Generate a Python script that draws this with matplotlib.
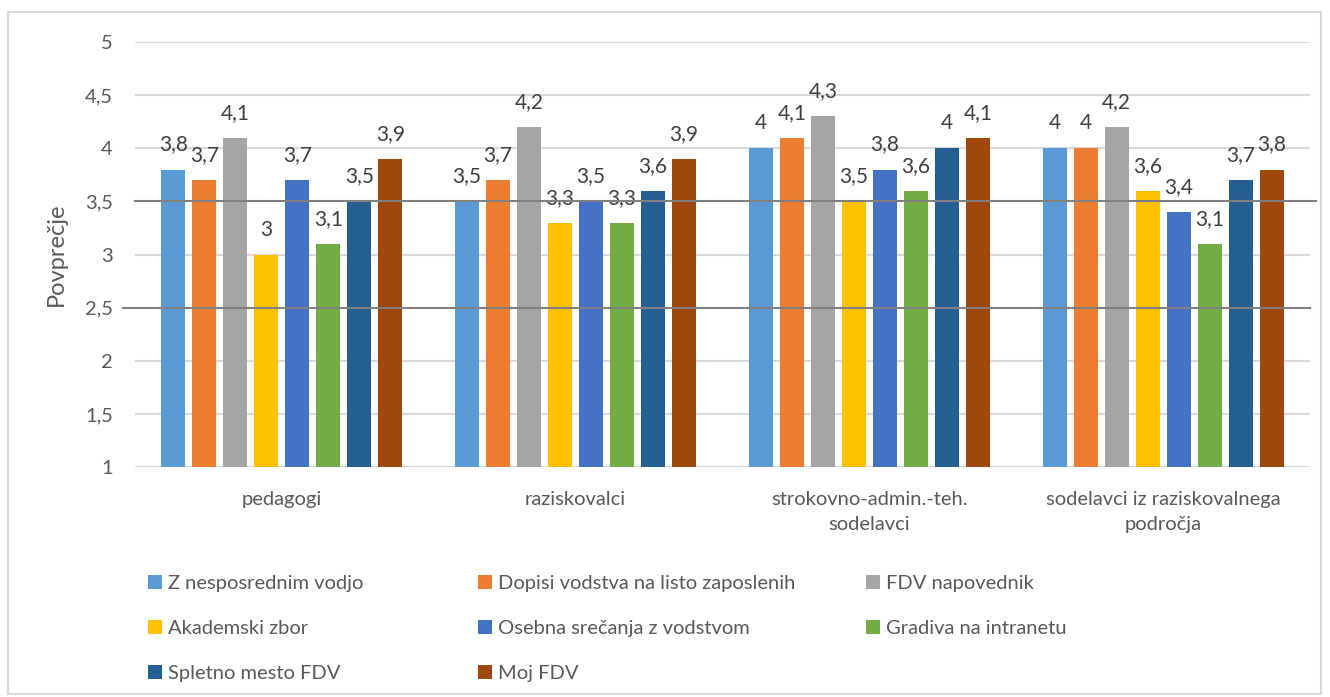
import numpy as np
import matplotlib.pyplot as plt
from matplotlib.patches import Rectangle, Patch

plt.rcParams['font.family'] = ['Lato', 'DejaVu Sans']

groups = ['pedagogi', 'raziskovalci', 'strokovno-admin.-teh.\nsodelavci',
          'sodelavci iz raziskovalnega\npodročja']
series = ['Z nesposrednim vodjo', 'Dopisi vodstva na listo zaposlenih', 'FDV napovednik',
          'Akademski zbor', 'Osebna srečanja z vodstvom', 'Gradiva na intranetu',
          'Spletno mesto FDV', 'Moj FDV']
values = [
    [3.8, 3.5, 4.0, 4.0],
    [3.7, 3.7, 4.1, 4.0],
    [4.1, 4.2, 4.3, 4.2],
    [3.0, 3.3, 3.5, 3.6],
    [3.7, 3.5, 3.8, 3.4],
    [3.1, 3.3, 3.6, 3.1],
    [3.5, 3.6, 4.0, 3.7],
    [3.9, 3.9, 4.1, 3.8],
]
colors = ['#5B9BD5', '#ED7D31', '#A5A5A5', '#FFC000', '#4472C4', '#70AD47', '#255E91', '#9E480E']
yticks = [1, 1.5, 2, 2.5, 3, 3.5, 4, 4.5, 5]

fig = plt.figure(figsize=(13.3, 6.97), dpi=100)
ax = fig.add_axes([135/1330, 1 - 467/697, 1175/1330, 425/697])

x = np.arange(len(groups))
step = 31/293.75
width = 24/293.75
for i, (name, vals) in enumerate(zip(series, values)):
    pos = x + (i - 3.5)*step
    ax.bar(pos, vals, width, bottom=0, color=colors[i], zorder=2, label=name)
    for px, v in zip(pos, vals):
        lab = ('%g' % v).replace('.', ',')
        ax.annotate(lab, (px, v), xytext=(0, 25), textcoords='offset pixels',
                    ha='center', va='center', fontsize=15, color='#404040')

ax.set_ylim(1, 5)
ax.set_xlim(-0.5, len(groups) - 0.5)
ax.set_yticks(yticks)
ax.set_yticklabels([('%g' % t).replace('.', ',') for t in yticks])
ax.set_xticks(x)
ax.set_xticklabels(groups, linespacing=1.6)
ax.tick_params(axis='both', length=0, labelsize=14.5, labelcolor='#595959')
ax.tick_params(axis='y', pad=16)
ax.tick_params(axis='x', pad=17)
for s in ax.spines.values():
    s.set_visible(False)
for t in yticks:
    if t in (2.5, 3.5):
        continue
    ax.axhline(t, color='#d9d9d9', lw=1.5, zorder=1)
ax.axhline(3.5, xmin=0.0, xmax=1.005, color='#808080', lw=1.5, zorder=3, clip_on=False)
ax.axhline(2.5, xmin=-0.01, xmax=1.0, color='#808080', lw=1.5, zorder=3, clip_on=False)

ax.set_ylabel('Povprečje', fontsize=17, color='#595959')
ax.yaxis.set_label_coords(-0.058, 0.5)

# legend: three columns, filled row by row
handles = [Patch(facecolor=c) for c in colors]
col_x = [140, 470, 858]
for c in range(3):
    idx = list(range(c, len(series), 3))
    leg = fig.legend([handles[i] for i in idx], [series[i] for i in idx],
                     loc='upper left', bbox_to_anchor=(col_x[c]/1330, 1 - 567/697),
                     frameon=False, fontsize=14.5, handlelength=0.7, handleheight=0.7,
                     handletextpad=0.3, labelspacing=1.38, borderaxespad=0)
    for t in leg.get_texts():
        t.set_color('#595959')

fig.patches.append(Rectangle((8/1330, 3/697), 1313/1330, 682/697, transform=fig.transFigure,
                             fill=False, edgecolor='#d9d9d9', lw=1.5))

fig.savefig('out.png', dpi=100)
